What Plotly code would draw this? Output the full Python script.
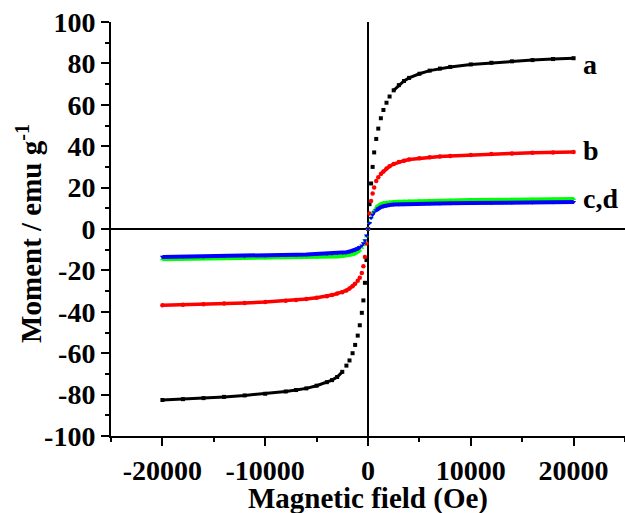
import plotly.graph_objects as go

# Magnetic field (Oe)
field_oe = [-20000, -18000, -16000, -14000, -12000, -10000, -8000, -7000, -6000, -5000,
            -4000, -3500, -3000, -2500, -2100, -1800, -1500, -1250, -1000, -800,
            -600, -450, -300, -150, 0, 150, 300, 450, 600, 800,
            1000, 1250, 1500, 1800, 2100, 2500, 3000, 3500, 4000, 5000,
            6000, 7000, 8000, 10000, 12000, 14000, 16000, 18000, 20000]

# Moment (emu/g)
moment_a = [-82.6, -82.2, -81.7, -81.1, -80.4, -79.6, -78.5, -77.8, -77.0, -75.7,
            -74.0, -73.0, -71.5, -69.0, -66.0, -63.5, -60.0, -56.0, -51.5, -46.5,
            -40.5, -34.5, -26.0, -15.0, 0.0, 12.0, 22.0, 30.0, 37.0, 43.5,
            48.5, 53.5, 57.5, 61.0, 64.0, 67.0, 69.5, 71.5, 73.0, 75.0,
            76.5, 77.5, 78.3, 79.5, 80.3, 81.0, 81.6, 82.1, 82.5]
moment_b = [-36.8, -36.6, -36.3, -36.0, -35.7, -35.3, -34.7, -34.3, -33.8, -33.2,
            -32.5, -31.9, -31.2, -30.5, -29.7, -28.8, -27.6, -26.4, -25.0, -23.6,
            -21.2, -18.0, -13.5, -7.0, 0.0, 7.5, 13.5, 17.2, 20.0, 23.2,
            25.0, 26.6, 27.8, 29.2, 30.3, 31.4, 32.4, 33.0, 33.6, 34.2,
            34.7, 35.0, 35.3, 35.8, 36.2, 36.5, 36.8, 37.0, 37.2]
moment_c = [-14.6, -14.5, -14.4, -14.3, -14.2, -14.1, -13.9, -13.8, -13.7, -13.6,
            -13.5, -13.4, -13.3, -13.1, -12.9, -12.6, -12.2, -11.8, -11.1, -10.3,
            -9.0, -7.8, -6.0, -3.5, 0.0, 3.0, 5.5, 7.5, 9.0, 10.5,
            11.4, 12.0, 12.4, 12.7, 12.9, 13.1, 13.2, 13.3, 13.4, 13.5,
            13.6, 13.7, 13.8, 14.0, 14.1, 14.2, 14.3, 14.4, 14.5]
moment_d = [-13.5, -13.4, -13.3, -13.1, -13.0, -12.8, -12.6, -12.4, -12.3, -12.1,
            -11.9, -11.8, -11.6, -11.4, -11.2, -10.9, -10.5, -10.1, -9.5, -8.8,
            -8.0, -7.0, -5.5, -3.2, 0.0, 2.8, 5.3, 6.8, 8.0, 9.0,
            9.8, 10.6, 11.0, 11.4, 11.6, 11.8, 11.9, 12.0, 12.1, 12.2,
            12.3, 12.35, 12.4, 12.5, 12.6, 12.7, 12.8, 12.9, 13.0]

series_labels = ["a", "b", "c,d"]
label_y = [79.7, 37.7, 14.5]
x_tick_vals = [-20000, -10000, 0, 10000, 20000]
y_tick_vals = [-100, -80, -60, -40, -20, 0, 20, 40, 60, 80, 100]

FONT = "Liberation Serif"

series = [
    (moment_a, "#000000", "square", 4, 3.0, 2500),
    (moment_b, "#ff0000", "circle", 4.5, 3.5, 1250),
    (moment_c, "#00ff00", "triangle-up", 4.5, 4.0, 800),
    (moment_d, "#0000ff", "triangle-down", 4.5, 4.0, 800),
]

fig = go.Figure()
for m, col, sym, msize, lw, thr in series:
    fig.add_trace(go.Scatter(x=field_oe, y=m, mode="markers",
                             marker=dict(symbol=sym, size=msize, color=col, line=dict(width=0)),
                             showlegend=False, hoverinfo="skip"))
    lx, ly = [], []
    for h, v in zip(field_oe, m):
        if h <= -thr:
            lx.append(h); ly.append(v)
    lx.append(None); ly.append(None)
    for h, v in zip(field_oe, m):
        if h >= thr:
            lx.append(h); ly.append(v)
    fig.add_trace(go.Scatter(x=lx, y=ly, mode="lines", line=dict(color=col, width=lw),
                             showlegend=False, hoverinfo="skip", connectgaps=False))

axis_common = dict(
    showgrid=False, showline=True, linecolor="black", linewidth=2,
    ticks="outside", ticklen=8, tickwidth=2, tickcolor="black",
    tickfont=dict(family=FONT, size=28, color="black"),
    zeroline=True, zerolinecolor="black", zerolinewidth=2,
    automargin=False,
)

fig.update_layout(
    width=625, height=513,
    margin=dict(l=111, r=0, t=22, b=77),
    paper_bgcolor="white", plot_bgcolor="white",
    font=dict(family=FONT, color="black"),
    xaxis=dict(range=[-25000, 25000], tickvals=x_tick_vals,
               ticktext=["<b>%d</b>" % v for v in x_tick_vals],
               minor=dict(dtick=5000, tick0=0, ticks="outside", ticklen=4, tickwidth=2, tickcolor="black"),
               **axis_common),
    yaxis=dict(range=[-100, 100], tickvals=y_tick_vals,
               ticktext=["<b>%d</b>" % v for v in y_tick_vals],
               minor=dict(dtick=10, tick0=0, ticks="outside", ticklen=4, tickwidth=2, tickcolor="black"),
               **axis_common),
)

for yv, txt in zip(label_y, series_labels):
    fig.add_annotation(x=20700, y=yv, text="<b>%s</b>" % txt, showarrow=False,
                       xanchor="left", yanchor="middle", xref="x", yref="y",
                       font=dict(family=FONT, size=28, color="black"))

fig.add_annotation(x=0, y=-0.151, xref="x", yref="paper",
                   text="<b>Magnetic field (Oe)</b>", showarrow=False,
                   xanchor="center", yanchor="middle",
                   font=dict(family=FONT, size=29, color="black"))
fig.add_annotation(x=-0.16, y=0.49, xref="paper", yref="paper",
                   text="<b>Moment / emu g<sup>-1</sup></b>", showarrow=False,
                   textangle=-90, xanchor="center", yanchor="middle",
                   font=dict(family=FONT, size=29, color="black"))

fig.write_html("out.html", config={"displayModeBar": False},
               post_script="document.body.style.margin='0';document.body.style.padding='0';")
